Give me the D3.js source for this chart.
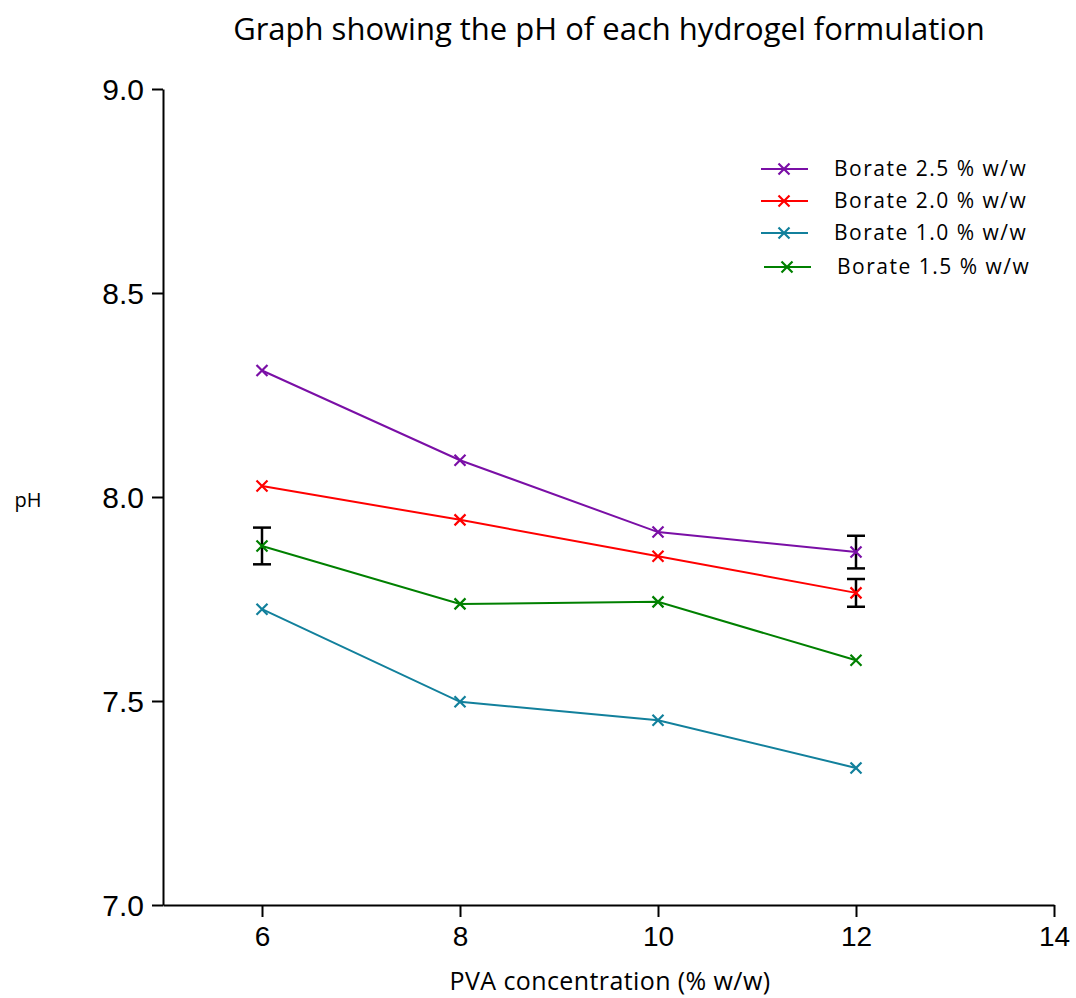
<!DOCTYPE html>
<html>
<head>
<meta charset="utf-8">
<script src="https://cdn.jsdelivr.net/npm/d3@7"></script>
<style>
  body { margin: 0; background: #fff; }
</style>
</head>
<body>
<div id="chart"></div>
<script>
// Data
const pvaConc = [6, 8, 10, 12];
const seriesNames = ["Borate 2.5 % w/w", "Borate 2.0 % w/w", "Borate 1.0 % w/w", "Borate 1.5 % w/w"];
const borate25 = [8.31, 8.09, 7.914, 7.865];
const borate20 = [8.027, 7.944, 7.855, 7.765];
const borate10 = [7.725, 7.498, 7.453, 7.336];
const borate15 = [7.88, 7.738, 7.743, 7.60];
// error bars (only a few are visible)
const errBars = [
  { x: 6, y: 7.88, e: 0.045 },
  { x: 12, y: 7.865, e: 0.040 },
  { x: 12, y: 7.765, e: 0.034 }
];
const xTicks = [6, 8, 10, 12, 14];
const yTicks = [7.0, 7.5, 8.0, 8.5, 9.0];
const colors = ["#7a0fa6", "#ff0000", "#12809c", "#008000"];

const width = 1076, height = 998;
const svg = d3.select("#chart").append("svg")
  .attr("width", width)
  .attr("height", height);

const x = d3.scaleLinear().domain([5, 14]).range([163, 1054]);
const y = d3.scaleLinear().domain([7, 9]).range([905, 89]);

const labelFont = "'Open Sans', 'Noto Sans', sans-serif";

// Title
svg.append("text")
  .attr("x", 609).attr("y", 40)
  .attr("text-anchor", "middle")
  .style("font-family", labelFont)
  .style("font-size", "31px")
  .text("Graph showing the pH of each hydrogel formulation");

// Axes
const xAxis = svg.append("g")
  .attr("transform", "translate(0,905)")
  .call(d3.axisBottom(x).tickValues(xTicks).tickSize(12).tickPadding(9).tickSizeOuter(0));
const yAxis = svg.append("g")
  .attr("transform", "translate(163,0)")
  .call(d3.axisLeft(y).tickValues(yTicks).tickFormat(d3.format(".1f")).tickSize(11).tickPadding(8).tickSizeOuter(0));

[xAxis, yAxis].forEach(a => {
  a.select(".domain").attr("stroke", "#000").attr("stroke-width", 2);
  a.selectAll(".tick line").attr("stroke", "#000").attr("stroke-width", 2);
  a.selectAll(".tick text")
    .attr("fill", "#000")
    .style("font-family", "'Liberation Sans', Arial, sans-serif");
});
xAxis.selectAll(".tick text").style("font-size", "28px");
yAxis.selectAll(".tick text").style("font-size", "30px").attr("dy", "0.35em");

// Axis labels
svg.append("text")
  .attr("x", 610).attr("y", 990)
  .attr("text-anchor", "middle")
  .style("font-family", labelFont)
  .style("font-size", "25px")
  .style("letter-spacing", "0.4px")
  .text("PVA concentration (% w/w)");
svg.append("text")
  .attr("x", 28).attr("y", 507)
  .attr("text-anchor", "middle")
  .style("font-family", labelFont)
  .style("font-size", "20px")
  .text("pH");

// Error bars
const eb = svg.append("g").attr("stroke", "#000").attr("stroke-width", 2.5);
errBars.forEach(d => {
  eb.append("line").attr("x1", x(d.x)).attr("x2", x(d.x)).attr("y1", y(d.y - d.e)).attr("y2", y(d.y + d.e));
  eb.append("line").attr("x1", x(d.x) - 9).attr("x2", x(d.x) + 9).attr("y1", y(d.y - d.e)).attr("y2", y(d.y - d.e));
  eb.append("line").attr("x1", x(d.x) - 9).attr("x2", x(d.x) + 9).attr("y1", y(d.y + d.e)).attr("y2", y(d.y + d.e));
});

// Series
const allSeries = [borate25, borate20, borate10, borate15];
const line = d3.line().x((d, i) => x(pvaConc[i])).y(d => y(d));

function cross(g, cx, cy, color) {
  const s = 5.5;
  g.append("path")
    .attr("d", `M${cx - s},${cy - s}L${cx + s},${cy + s}M${cx - s},${cy + s}L${cx + s},${cy - s}`)
    .attr("stroke", color).attr("stroke-width", 2.2).attr("fill", "none");
}

allSeries.forEach((vals, k) => {
  const g = svg.append("g");
  g.append("path")
    .datum(vals)
    .attr("d", line)
    .attr("fill", "none")
    .attr("stroke", colors[k])
    .attr("stroke-width", 2);
  vals.forEach((v, i) => cross(g, x(pvaConc[i]), y(v), colors[k]));
});

// Legend
const legY = [169, 201, 233, 267];
const legX = [761, 761, 761, 764];
seriesNames.forEach((name, k) => {
  const g = svg.append("g");
  g.append("line")
    .attr("x1", legX[k]).attr("x2", legX[k] + 47)
    .attr("y1", legY[k]).attr("y2", legY[k])
    .attr("stroke", colors[k]).attr("stroke-width", 2);
  cross(g, legX[k] + 23, legY[k], colors[k]);
  g.append("text")
    .attr("x", legX[k] + 73).attr("y", legY[k] + 7)
    .style("font-family", labelFont)
    .style("font-size", "21px")
    .style("letter-spacing", "1.5px")
    .text(name);
});
</script>
</body>
</html>
